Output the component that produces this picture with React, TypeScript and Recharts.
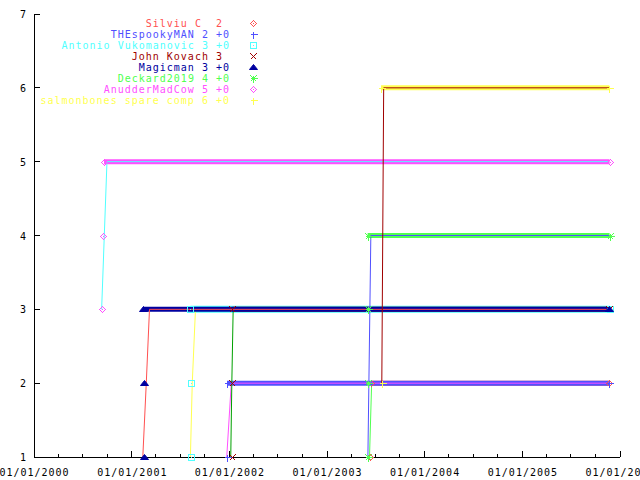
import React from "react";
import { ComposedChart, Line, XAxis, YAxis } from "recharts";

// rank history per player: [date, rank]
// *Pts = plotted points (markers + thick band), *Trail = thin line drawn over them
const silviuPts: [string, number][] = [["2003-06-10", 1], ["2003-06-14", 2], ["2005-11-22", 2]];
const silviuTrail: [string, number][] = [["2003-06-09", 1], ["2003-06-17", 2], ["2005-11-22", 2]];
const spookyPts: [string, number][] = [["2001-12-23", 1], ["2001-12-23", 2], ["2005-11-22", 2]];
const spookyTrail: [string, number][] = [["2001-12-22", 1], ["2002-01-08", 2], ["2005-11-22", 2]];
const antonioPts: [string, number][] = [["2001-08-10", 1], ["2001-08-10", 2], ["2001-08-08", 3], ["2005-11-23", 3]];
const antonioTrail: [string, number][] = [["2001-08-08", 1], ["2001-08-15", 2], ["2001-08-27", 3], ["2005-11-22", 3]];
const johnPts: [string, number][] = [["2002-01-09", 1], ["2002-01-10", 2], ["2002-01-12", 3], ["2005-11-22", 3]];
const johnTrail: [string, number][] = [["2002-01-06", 1], ["2002-01-10", 2], ["2002-01-15", 3], ["2005-11-22", 3]];
const magicPts: [string, number][] = [["2001-02-14", 1], ["2001-02-14", 2], ["2001-02-13", 3], ["2005-11-22", 3]];
const magicTrail: [string, number][] = [["2001-02-11", 1], ["2001-02-24", 2], ["2001-03-08", 3], ["2005-11-22", 3]];
const deckardPts: [string, number][] = [["2003-06-03", 1], ["2003-06-04", 2], ["2003-06-04", 3], ["2003-06-02", 4], ["2005-11-23", 4]];
const deckardTrail: [string, number][] = [["2003-06-03", 1], ["2003-06-14", 4], ["2005-11-22", 4]];
const madcowPts: [string, number][] = [["2000-09-11", 3], ["2000-09-15", 4], ["2000-09-19", 5], ["2005-11-23", 5]];
const madcowTrail: [string, number][] = [["2000-09-10", 3], ["2000-09-30", 5], ["2005-11-22", 5]];
const salmonPts: [string, number][] = [["2003-07-24", 2], ["2003-07-22", 6], ["2005-11-22", 6]];
const salmonTrail: [string, number][] = [["2003-07-25", 2], ["2003-08-01", 6], ["2005-11-22", 6]];

const LABELS = [
  "Silviu C  2 ",
  "THEspookyMAN 2 +0",
  "Antonio Vukomanovic 3 +0",
  "John Kovach 3 ",
  "Magicman 3 +0",
  "Deckard2019 4 +0",
  "AnudderMadCow 5 +0",
  "salmonbones spare comp 6 +0",
];
const COLORS = ["#ff5050", "#5050ff", "#50ffff", "#a00000", "#0000a0", "#50ff50", "#ff50ff", "#ffff50"];
const LINE_COLORS = ["#50ff50", "#ff50ff", "#ffff50", "#00a000", "#ff5050", "#5050ff", "#50ffff", "#a00000"];
const SHAPES = ["diamond", "plus", "box", "cross", "triangle", "star", "diamond", "plus"];
const POINTS = [silviuPts, spookyPts, antonioPts, johnPts, magicPts, deckardPts, madcowPts, salmonPts];
const TRAILS = [silviuTrail, spookyTrail, antonioTrail, johnTrail, magicTrail, deckardTrail, madcowTrail, salmonTrail];

const YEARS = [2000, 2001, 2002, 2003, 2004, 2005, 2006];
const RANK_TICKS = [1, 2, 3, 4, 5, 6, 7];

const FONT = "'DejaVu Sans Mono', monospace";
const FONT_SIZE = 10;
const SPACING = 1; // gnuplot's bitmap font is 7px per char
const T0 = Date.UTC(YEARS[0], 0, 1);
const T1 = Date.UTC(YEARS[YEARS.length - 1], 0, 1);

// yearly major ticks, quarterly minor ones
const X_TICKS: number[] = [];
YEARS.forEach((y, i) => {
  [0, 3, 6, 9].forEach((m) => {
    if (i < YEARS.length - 1 || m === 0) X_TICKS.push(Date.UTC(y, m, 1));
  });
});

const toRows = (arr: [string, number][]) => arr.map(([d, r]) => ({ t: Date.parse(d), r }));

const fmtDate = (t: number) => `01/01/${new Date(t).getUTCFullYear()}`;

function Marker({ shape, cx, cy, color }: any) {
  const x = Math.round(cx) + 0.5;
  const y = Math.round(cy) + 0.5;
  const s = { stroke: color, strokeWidth: 1, fill: "none", shapeRendering: "crispEdges" as const };
  switch (shape) {
    case "diamond":
      return (
        <g>
          <path d={`M${x} ${y - 3}L${x + 3} ${y}L${x} ${y + 3}L${x - 3} ${y}Z`} {...s} />
          <rect x={x - 0.5} y={y - 0.5} width={1} height={1} fill={color} />
        </g>
      );
    case "plus":
      return <path d={`M${x - 3} ${y}H${x + 4}M${x} ${y - 3}V${y + 4}`} {...s} />;
    case "box":
      return (
        <g>
          <rect x={x - 3} y={y - 3} width={6} height={6} {...s} />
          <rect x={x - 0.5} y={y - 0.5} width={1} height={1} fill={color} />
        </g>
      );
    case "cross":
      return <path d={`M${x - 3} ${y - 3}L${x + 3} ${y + 3}M${x - 3} ${y + 3}L${x + 3} ${y - 3}`} {...s} />;
    case "triangle":
      return <path d={`M${x} ${y - 3}L${x + 4} ${y + 2}L${x - 4} ${y + 2}Z`} fill={color} stroke={color} />;
    case "star":
      return (
        <path
          d={`M${x - 3} ${y}H${x + 4}M${x} ${y - 3}V${y + 4}M${x - 3} ${y - 3}L${x + 3} ${y + 3}M${x - 3} ${y + 3}L${x + 3} ${y - 3}`}
          {...s}
        />
      );
  }
  return null;
}

const isYear = (t: number) => new Date(t).getUTCMonth() === 0;

function BottomTick({ x, y, payload }: any) {
  const len = isYear(payload.value) ? 6 : 3;
  return (
    <g>
      <line x1={x} x2={x} y1={y} y2={y - len} stroke="#000" shapeRendering="crispEdges" />
      {isYear(payload.value) && (
        <text
          x={x + SPACING / 2}
          y={y + 19}
          textAnchor="middle"
          fontFamily={FONT}
          fontSize={FONT_SIZE}
          letterSpacing={SPACING}
          fill="#000"
        >
          {fmtDate(payload.value)}
        </text>
      )}
    </g>
  );
}

function TopTick({ x, y, payload }: any) {
  const len = isYear(payload.value) ? 6 : 3;
  return <line x1={x} x2={x} y1={y} y2={y + len} stroke="#000" shapeRendering="crispEdges" />;
}

function LeftTick({ x, y, payload }: any) {
  return (
    <g>
      <line x1={x} x2={x + 6} y1={y} y2={y} stroke="#000" shapeRendering="crispEdges" />
      <text x={x - 8} y={y + 4} textAnchor="end" fontFamily={FONT} fontSize={FONT_SIZE} fill="#000">
        {payload.value}
      </text>
    </g>
  );
}

function RightTick({ x, y }: any) {
  return <line x1={x} x2={x - 6} y1={y} y2={y} stroke="#000" shapeRendering="crispEdges" />;
}

export default function App() {
  const axisLine = { stroke: "#000", shapeRendering: "crispEdges" };
  return (
    <div style={{ position: "absolute", left: 0, top: 0, width: 640, height: 480, background: "#fff" }}>
      <ComposedChart width={640} height={480} margin={{ top: 14, right: 20, bottom: 0, left: 0 }}>
        <XAxis
          xAxisId="b"
          dataKey="t"
          type="number"
          domain={[T0, T1]}
          ticks={X_TICKS}
          interval={0}
          height={23}
          tickSize={0}
          tickMargin={0}
          tickLine={false}
          axisLine={axisLine}
          tick={BottomTick}
          allowDataOverflow
        />
        <XAxis
          xAxisId="t"
          orientation="top"
          dataKey="t"
          type="number"
          domain={[T0, T1]}
          ticks={X_TICKS}
          interval={0}
          height={0}
          tickSize={0}
          tickMargin={0}
          tickLine={false}
          axisLine={axisLine}
          tick={TopTick}
          allowDataOverflow
        />
        <YAxis
          yAxisId="l"
          type="number"
          domain={[1, 7]}
          ticks={RANK_TICKS}
          interval={0}
          width={34}
          tickSize={0}
          tickMargin={0}
          tickLine={false}
          axisLine={axisLine}
          tick={LeftTick}
        />
        <YAxis
          yAxisId="r"
          orientation="right"
          type="number"
          domain={[1, 7]}
          ticks={RANK_TICKS}
          interval={0}
          width={0}
          tickSize={0}
          tickMargin={0}
          tickLine={false}
          axisLine={axisLine}
          tick={RightTick}
        />
        {POINTS.map((pts, i) => {
          const rows = toRows(pts);
          const band = rows.slice(-2);
          return [
            <Line
              key={`band-${i}`}
              xAxisId="b"
              yAxisId="l"
              data={band}
              dataKey="r"
              stroke={COLORS[i]}
              strokeWidth={SHAPES[i] === "box" ? 7 : 5}
              dot={false}
              activeDot={false}
              isAnimationActive={false}
            />,
            <Line
              key={`pts-${i}`}
              xAxisId="b"
              yAxisId="l"
              data={rows}
              dataKey="r"
              stroke="none"
              dot={(p: any) => <Marker key={`m-${i}-${p.index}`} shape={SHAPES[i]} cx={p.cx} cy={p.cy} color={COLORS[i]} />}
              activeDot={false}
              isAnimationActive={false}
            />,
            <Line
              key={`trail-${i}`}
              xAxisId="b"
              yAxisId="l"
              data={toRows(TRAILS[i])}
              dataKey="r"
              stroke={LINE_COLORS[i]}
              strokeWidth={1}
              dot={false}
              activeDot={false}
              isAnimationActive={false}
            />,
          ];
        })}
      </ComposedChart>
      <div
        style={{
          position: "absolute",
          left: 0,
          top: 18,
          width: 230,
          textAlign: "right",
          whiteSpace: "pre",
          fontFamily: FONT,
          fontSize: FONT_SIZE,
          letterSpacing: SPACING,
          lineHeight: "11px",
        }}
      >
        {LABELS.map((l, i) => (
          <div key={i} style={{ color: COLORS[i], height: 11, position: "relative" }}>
            {l}
            <svg width={9} height={11} style={{ position: "absolute", left: 249, top: 0, overflow: "visible" }}>
              <Marker shape={SHAPES[i]} cx={4} cy={5} color={COLORS[i]} />
            </svg>
          </div>
        ))}
      </div>
    </div>
  );
}
